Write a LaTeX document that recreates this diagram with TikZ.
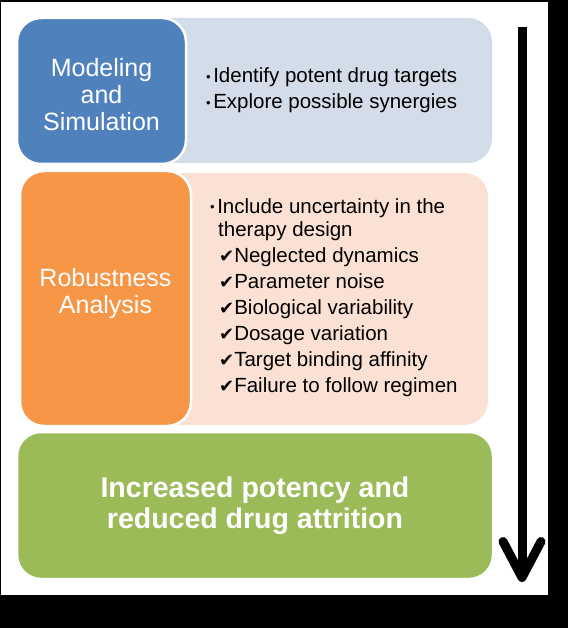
\documentclass[tikz,border=0pt]{standalone}
\usepackage{fontspec}
\setmainfont{Liberation Sans}
\newfontfamily\tickfont{DejaVu Sans}
\definecolor{smblue}{HTML}{4F81BD}
\definecolor{smbluebg}{HTML}{D3DCE9}
\definecolor{smorange}{HTML}{F79646}
\definecolor{smorangebg}{HTML}{FBE0D4}
\definecolor{smgreen}{HTML}{9BBB59}
\usetikzlibrary{arrows.meta}

\newcommand{\smbul}{\raisebox{1.5pt}{\fontsize{13}{13}\selectfont •}\hspace{2.5pt}}
\newcommand{\smtick}{{\tickfont\fontsize{18}{20}\selectfont ✔}}

\begin{document}
\begin{tikzpicture}[
      x=1pt, y=-1pt,
      panel/.style={rounded corners=24pt, draw=none, inner sep=0pt, outer sep=0pt},
      tab/.style={rounded corners=24pt, draw=white, line width=2.5pt, inner sep=0pt,
                  outer sep=0pt},
      lbl/.style={text=white, align=center, inner sep=0pt,
                  font=\fontsize{25}{27}\selectfont},
      item/.style={anchor=base west, inner sep=0pt, font=\fontsize{20.5}{24}\selectfont},
      fl/.style={-{Straight Barb[length=36pt, width=38pt, round]}, line width=9pt},
    ]

    % page frame
    \fill[black] (0,0) rectangle (568,628);
    \fill[white] (1,2) rectangle (548,595);

    % light panels behind the tabs
    \node[panel, fill=smbluebg, minimum width=342pt, minimum height=145pt]
          (modpanel) at (321,90.5) {};
    \node[panel, fill=smorangebg, minimum width=338pt, minimum height=252pt]
          (robpanel) at (319,299) {};

    % tabs
    \node[tab, fill=smblue, minimum width=169pt, minimum height=146pt]
          (model) at (101.5,91) {};
    \node[tab, fill=smorange, minimum width=171pt, minimum height=255pt]
          (robust) at (105.5,298.5) {};
    \node[tab, fill=smgreen, minimum width=476pt, minimum height=147pt]
          (result) at (255,505.5) {};

    \node[lbl] (modlbl) at (101.5,95)  {Modeling\\and\\Simulation};
    \node[lbl] (roblbl) at (105.5,294) {Robustness\\Analysis};
    \node[lbl, font=\fontsize{28.5}{31}\selectfont\bfseries]
          (reslbl) at (255,505.5) {Increased potency and\\reduced drug attrition};

    % panel texts
    \node[item] (ident)   at (206,83)  {\smbul Identify potent drug targets};
    \node[item] (explore) at (206,109) {\smbul Explore possible synergies};

    \node[item] (uncert) at (210,213) {\smbul Include uncertainty in the};
    \node[item] (design) at (218,236) {therapy design};
    \foreach \txt [count=\i] in {Neglected dynamics, Parameter noise,
        Biological variability, Dosage variation, Target binding affinity,
        Failure to follow regimen}
      \node[item] (chk\i) at (219,236+26*\i) {\smtick\txt};

    % flow arrow
    \coordinate (atop) at (522,27);
    \coordinate (abot) at (522,582);
    \draw[fl] (atop) -- (abot);

  \end{tikzpicture}
\end{document}
